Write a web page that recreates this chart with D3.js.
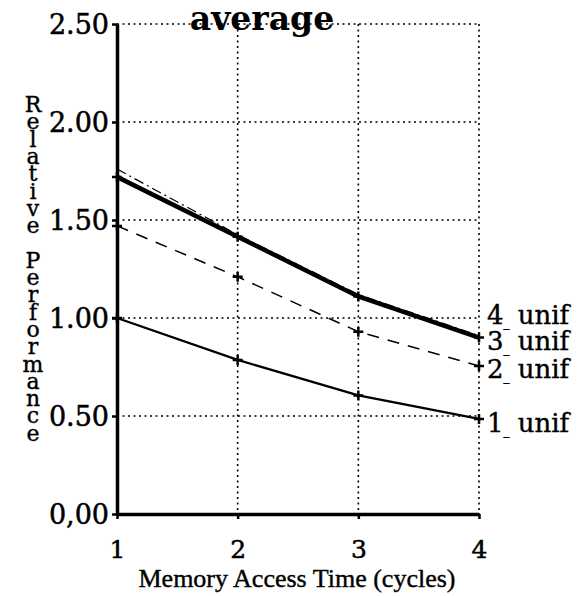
<!DOCTYPE html>
<html>
<head>
<meta charset="utf-8">
<script src="https://cdn.jsdelivr.net/npm/d3@7"></script>
<style>
  body { margin: 0; background: #fff; }
  svg text { fill: #000; }
</style>
</head>
<body>
<div class="content"></div>
<script>
//--> Data
const accessTimes = [1, 2, 3, 4];
const seriesNames = ["1", "2", "3", "4"];
const unif1 = [1.0, 0.786, 0.605, 0.485];
const unif2 = [1.47, 1.21, 0.93, 0.755];
const unif3 = [1.72, 1.415, 1.11, 0.9];
const unif4 = [1.76, 1.425, 1.12, 0.91];
const yTicks = [0, 0.5, 1, 1.5, 2, 2.5];
const yTickLabels = ["0,00", "0.50", "1.00", "1.50", "2.00", "2.50"];
const yLabel = "Relative Performance";

//--> Constants
const width = 584;
const height = 596;
const margin = { top: 24, right: 105, bottom: 82, left: 117 };
const innerW = width - margin.left - margin.right;
const innerH = height - margin.top - margin.bottom;
const serif = "'DejaVu Serif', serif";
const timesLike = "'Liberation Serif', serif";

const svg = d3
  .select(".content")
  .append("svg")
  .attr("width", width)
  .attr("height", height)
  .style("font-family", serif);

const graph = svg
  .append("g")
  .attr("transform", `translate(${margin.left}, ${margin.top})`);

const x = d3.scaleLinear().domain([1, 4]).range([0, innerW]);
const y = d3.scaleLinear().domain([0, 2.5]).range([innerH, 0]);

//--> Dotted grid
graph
  .selectAll(".hgrid")
  .data(yTicks.filter(d => d > 0))
  .enter()
  .append("line")
  .attr("x1", 0)
  .attr("x2", x(4))
  .attr("y1", d => y(d))
  .attr("y2", d => y(d))
  .attr("stroke", "#000")
  .attr("stroke-width", 1.6)
  .attr("stroke-dasharray", "2,3.5");

graph
  .selectAll(".vgrid")
  .data(accessTimes.filter(d => d > 1))
  .enter()
  .append("line")
  .attr("x1", d => x(d))
  .attr("x2", d => x(d))
  .attr("y1", y(2.5))
  .attr("y2", y(0))
  .attr("stroke", "#000")
  .attr("stroke-width", 1.6)
  .attr("stroke-dasharray", "2,3.5");

//--> Axes
const yAxis = d3
  .axisLeft(y)
  .tickValues(yTicks)
  .tickFormat((d, i) => yTickLabels[i])
  .tickSize(5)
  .tickSizeOuter(0)
  .tickPadding(3);

const yG = graph.append("g").call(yAxis).attr("font-family", null);
yG.select(".domain").attr("stroke-width", 3.5);
yG.selectAll(".tick line").attr("stroke-width", 2.5);
yG.selectAll(".tick text")
  .style("font-family", serif)
  .style("font-size", "27px")
  .attr("stroke", "#000")
  .attr("stroke-width", 0.5)
  .attr("dy", "0.36em");

const xAxis = d3
  .axisBottom(x)
  .tickValues(accessTimes)
  .tickFormat(d3.format("d"))
  .tickSize(5)
  .tickSizeOuter(0);

const xG = graph
  .append("g")
  .attr("transform", `translate(0, ${innerH})`)
  .call(xAxis)
  .attr("font-family", null);
xG.select(".domain").attr("stroke-width", 3.5);
xG.selectAll(".tick line").attr("stroke-width", 2.5);
xG.selectAll(".tick text")
  .style("font-family", serif)
  .style("font-size", "25px")
  .attr("stroke", "#000")
  .attr("stroke-width", 0.5)
  .attr("y", 44)
  .attr("dy", 0);

//--> Lines
const series = [
  { name: seriesNames[0], values: unif1, width: 2.3, dash: null },
  { name: seriesNames[1], values: unif2, width: 1.5, dash: "12,9" },
  { name: seriesNames[2], values: unif3, width: 4.5, dash: null },
  { name: seriesNames[3], values: unif4, width: 1.2, dash: "10,4,2,4" }
];

const line = d3
  .line()
  .x((d, i) => x(accessTimes[i]))
  .y(d => y(d));

graph
  .selectAll(".series")
  .data(series)
  .enter()
  .append("path")
  .attr("d", d => line(d.values))
  .attr("fill", "none")
  .attr("stroke", "#000")
  .attr("stroke-width", d => d.width)
  .attr("stroke-dasharray", d => d.dash);

//--> Plus markers
const points = series.slice(0, 3).flatMap(s =>
  s.values.map((v, i) => ({ t: accessTimes[i], v }))
);
graph
  .selectAll(".marker")
  .data(points)
  .enter()
  .append("path")
  .attr("transform", d => `translate(${x(d.t)}, ${y(d.v)})`)
  .attr("d", "M-5,0H5M0,-5V5")
  .attr("stroke", "#000")
  .attr("stroke-width", 2.5);

//--> Series labels on the right
const labelY = [432, 378, 350, 324];
series.forEach((s, i) => {
  const t = graph
    .append("text")
    .attr("x", x(4) + 8)
    .attr("y", labelY[i] - margin.top)
    .style("font-size", "26px")
    .attr("stroke", "#000")
    .attr("stroke-width", 0.4);
  t.append("tspan").text(s.name);
  t.append("tspan").style("font-size", "12px").attr("dy", 3).text("_");
  t.append("tspan").attr("dy", -3).text(" unif");
});

//--> Title
svg
  .append("text")
  .attr("x", 262)
  .attr("y", 30)
  .attr("text-anchor", "middle")
  .style("font-size", "33px")
  .style("font-weight", "bold")
  .text("average");

//--> X axis label
svg
  .append("text")
  .attr("x", 297)
  .attr("y", 587)
  .attr("text-anchor", "middle")
  .style("font-family", timesLike)
  .style("font-size", "26px")
  .attr("stroke", "#000")
  .attr("stroke-width", 0.4)
  .text("Memory Access Time (cycles)");

//--> Stacked y axis label, one letter per row
svg
  .append("text")
  .attr("text-anchor", "middle")
  .style("font-size", "22px")
  .attr("stroke", "#000")
  .attr("stroke-width", 0.4)
  .selectAll("tspan")
  .data(yLabel.split(""))
  .enter()
  .append("tspan")
  .attr("x", 33)
  .attr("y", (d, i) => 112 + i * 17.3)
  .text(d => d);
</script>
</body>
</html>
